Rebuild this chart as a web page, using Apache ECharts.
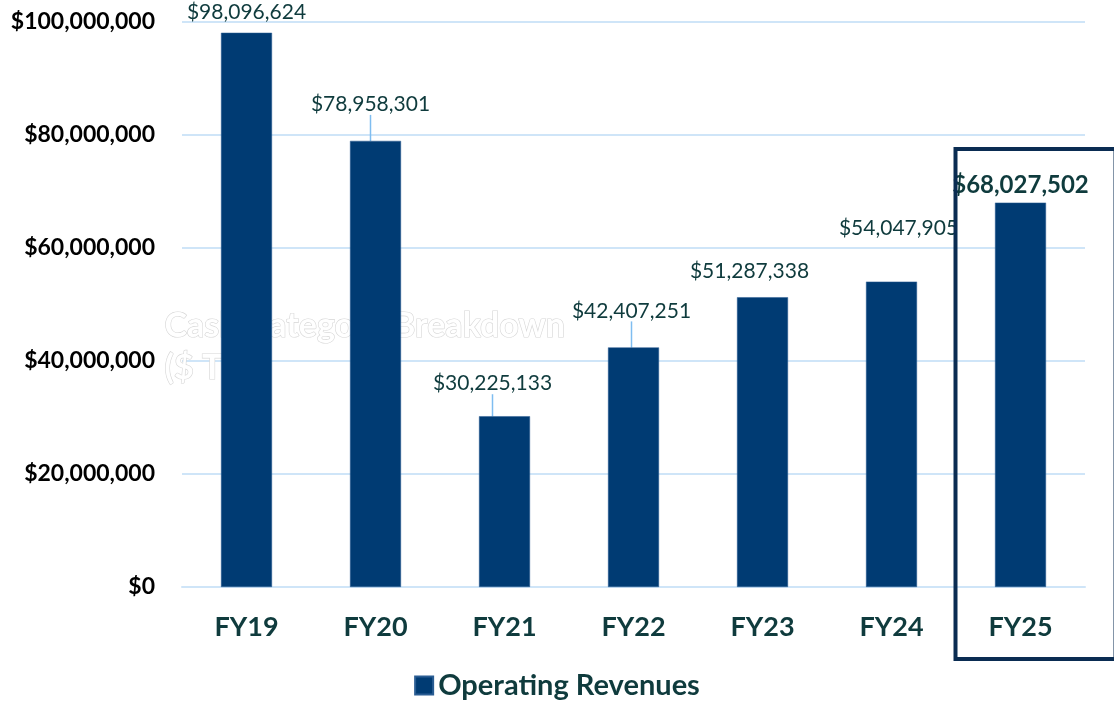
<!DOCTYPE html>
<html>
<head>
<meta charset="utf-8">
<script src="https://cdn.jsdelivr.net/npm/echarts@6/dist/echarts.min.js"></script>
<style>
  html, body { margin: 0; padding: 0; background: #fff; }
  #chart { width: 1114px; height: 709px; }
</style>
</head>
<body>
<div id="chart"></div>
<script>
var years = ['FY19', 'FY20', 'FY21', 'FY22', 'FY23', 'FY24', 'FY25'];
var revenues = [98096624, 78958301, 30225133, 42407251, 51287338, 54047905, 68027502];
var yTicks = [0, 20000000, 40000000, 60000000, 80000000, 100000000];

// how far each value label is pushed from its bar top; only some get a leader line
var labelShift = [[0, -5], [-5, -21], [-12, -17], [-2, -21], [-13, -10], [7, -38], [0, 0]];
var leader = [false, true, true, true, false, false, false];

var navy = '#003b73';
var teal = '#0f3b3d';
var grid = '#cfe5f8';

function money(v) {
    return '$' + Math.round(v).toString().replace(/\B(?=(\d{3})+(?!\d))/g, ',');
}

var chart = echarts.init(document.getElementById('chart'));

var option = {
    animation: false,
    textStyle: { fontFamily: 'Lato' },
    grid: { left: 182, right: 29, top: 22, bottom: 122 },
    legend: {
        bottom: 4,
        left: 'center',
        itemWidth: 18,
        itemHeight: 18,
        itemGap: 8,
        icon: 'rect',
        textStyle: { fontSize: 29, fontWeight: 'bold', color: teal, fontFamily: 'Lato' },
        data: ['Operating Revenues']
    },
    xAxis: {
        type: 'category',
        data: years,
        axisLine: { lineStyle: { color: grid, width: 2 } },
        axisTick: { show: false },
        axisLabel: { fontSize: 27, fontWeight: 'bold', color: teal, margin: 27 }
    },
    yAxis: {
        type: 'value',
        min: yTicks[0],
        max: yTicks[yTicks.length - 1],
        interval: yTicks[1] - yTicks[0],
        axisLine: { show: false },
        axisTick: { show: false },
        splitLine: { lineStyle: { color: grid, width: 2 } },
        axisLabel: {
            fontSize: 23, fontWeight: 'bold', color: '#000', margin: 27,
            formatter: money
        }
    },
    series: [{
        name: 'Operating Revenues',
        type: 'bar',
        barWidth: 51,
        z: 3,
        itemStyle: { color: navy, borderColor: '#2a5d93', borderWidth: 0.5 },
        data: revenues.map(function (v, i) {
            var d = { value: v, labelLine: { show: leader[i] } };
            if (i === revenues.length - 1) {
                d.label = { fontWeight: 'bold', fontSize: 24 };
            }
            return d;
        }),
        label: {
            show: true,
            position: 'top',
            distance: 5,
            fontSize: 21,
            color: teal,
            formatter: function (p) { return money(p.value); }
        },
        labelLine: {
            lineStyle: { color: '#7fbdf0', width: 1.5 }
        },
        labelLayout: function (p) {
            var s = labelShift[p.dataIndex];
            return { dx: s[0], dy: s[1] };
        }
    }]
};

chart.setOption(option);

// faint watermark title behind the bars, and the box around the last year
var pc = chart.convertToPixel({ seriesIndex: 0 }, [years.length - 1, 0]);
var halfBand = (1114 - 29 - 182) / years.length / 2;
chart.setOption({
    graphic: [{
        type: 'text',
        left: 164,
        top: 305,
        z: 0,
        silent: true,
        style: {
            text: 'Cash Category Breakdown\n($ T',
            fill: '#fff',
            stroke: '#d6d6d6',
            lineWidth: 1.2,
            font: 'bold 34px Lato',
            lineHeight: 42
        }
    }, {
        type: 'rect',
        z: 10,
        silent: true,
        shape: { x: pc[0] - halfBand - 0.5, y: 149, width: 160, height: 510 },
        style: { fill: 'none', stroke: '#0a2c52', lineWidth: 4 }
    }]
});
</script>
</body>
</html>
